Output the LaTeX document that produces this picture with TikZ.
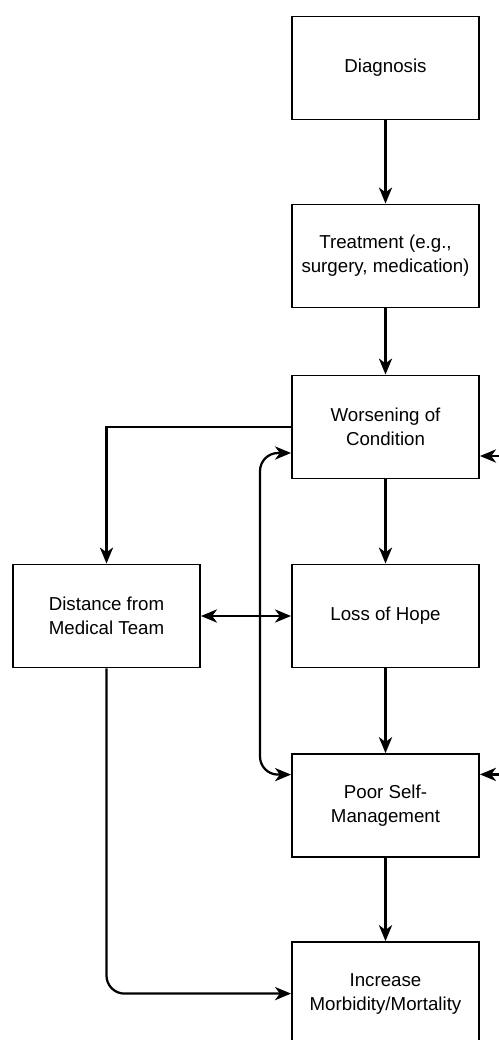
\documentclass[tikz,border=0pt]{standalone}
\usepackage{fontspec}
\setmainfont{Liberation Sans}
\usetikzlibrary{arrows.meta, calc}

\begin{document}
\begin{tikzpicture}[
    box/.style={draw, line width=1.4pt, minimum width=4.675cm, minimum height=2.575cm,
                inner sep=2pt, align=center, font=\fontsize{13.3}{17}\selectfont},
    arr/.style={line width=1.6pt, -{Stealth[length=4mm, width=3.3mm, inset=1.2mm]}},
    arrboth/.style={line width=1.6pt, {Stealth[length=4mm, width=3.3mm, inset=1.2mm]}-{Stealth[length=4mm, width=3.3mm, inset=1.2mm]}}
  ]
  \useasboundingbox (0,0) rectangle (12.475,-26);

  \node[box] (diag)  at (9.6375, -1.7)   {Diagnosis};
  \node[box] (treat) at (9.6375, -6.4)   {Treatment (e.g.,\\surgery, medication)};
  \node[box] (worse) at (9.6375, -10.675) {Worsening of\\Condition};
  \node[box] (loss)  at (9.6375, -15.4)  {Loss of Hope};
  \node[box] (poor)  at (9.6375, -20.14) {Poor Self-\\Management};
  \node[box] (incr)  at (9.6375, -24.84) {Increase\\Morbidity/Mortality};
  \node[box] (dist)  at (2.6625, -15.4)  {Distance from\\Medical Team};

  % main chain
  \draw[arr] (diag) -- (treat);
  \draw[arr] (treat) -- (worse);
  \draw[arr] (worse) -- (loss);
  \draw[arr] (loss) -- (poor);
  \draw[arr] (poor) -- (incr);

  \draw[arr] (worse.west) -| (dist.north);
  \draw[arrboth] (dist) -- (loss);
  \draw[arr, rounded corners=0.45cm] (dist.south) |- (incr.west);

  \coordinate (wl) at ($(worse.west)+(0,-0.65)$);
  \coordinate (pl) at ($(poor.west)+(0,0.775)$);
  \draw[arrboth, rounded corners=0.45cm] (wl) -- ++(-0.775,0) |- (pl);

  % incoming from the right
  \coordinate (wr) at (12.475, -11.4);
  \coordinate (pr) at (12.475, -19.36);
  \draw[arr] (wr) -- (wr -| worse.east);
  \draw[arr] (pr) -- (pr -| poor.east);
\end{tikzpicture}
\end{document}
